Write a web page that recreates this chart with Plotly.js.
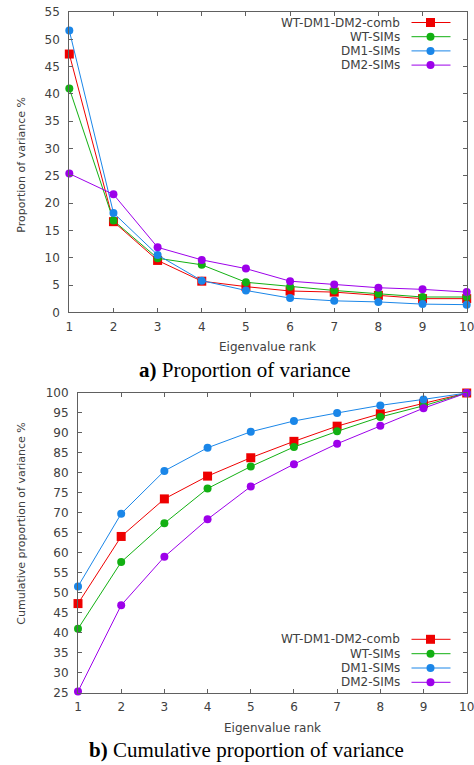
<!DOCTYPE html>
<html>
<head>
<meta charset="utf-8">
<script src="https://cdn.plot.ly/plotly-3.0.1.min.js"></script>
<style>html,body{margin:0;padding:0;background:#fff;}#chart{width:474px;height:765px;}</style>
</head>
<body>
<div id="chart"></div>
<script>
// ---- data ----
const ranks = [1, 2, 3, 4, 5, 6, 7, 8, 9, 10];
const seriesNames = ["WT-DM1-DM2-comb", "WT-SIMs", "DM1-SIMs", "DM2-SIMs"];

// a) proportion of variance (%)
const propComb = [47.3, 16.6, 9.5, 5.7, 4.7, 3.9, 3.7, 3.1, 2.5, 2.5];
const propWT   = [41.0, 16.8, 9.9, 8.7, 5.5, 4.7, 4.0, 3.4, 2.8, 2.8];
const propDM1  = [51.6, 18.2, 10.5, 5.8, 4.0, 2.6, 2.1, 1.9, 1.5, 1.4];
const propDM2  = [25.4, 21.6, 11.9, 9.6, 8.0, 5.7, 5.1, 4.5, 4.2, 3.7];

// b) cumulative proportion of variance (%)
const cumComb = [47.3, 64.1, 73.5, 79.2, 83.8, 87.9, 91.7, 94.8, 97.4, 100];
const cumWT   = [41.0, 57.7, 67.4, 76.1, 81.6, 86.5, 90.4, 94.0, 96.8, 100];
const cumDM1  = [51.6, 69.8, 80.5, 86.3, 90.3, 93.0, 95.0, 96.9, 98.4, 100];
const cumDM2  = [25.3, 46.9, 59.0, 68.4, 76.6, 82.2, 87.3, 91.8, 96.2, 100];

const xTitle = "Eigenvalue rank";
const yTitleA = "Proportion of variance %";
const yTitleB = "Cumulative proportion of variance %";
const captionA = "<b>a)</b> Proportion of variance";
const captionB = "<b>b)</b> Cumulative proportion of variance";

// ---- styles ----
const colors = ["#ee0000", "#12b012", "#1a86e8", "#9d00ea"];
const symbols = ["square", "circle", "circle", "circle"];
const sizes = [9, 8, 8, 8];

const W = 474, H = 765;
const px = x => x / W;
const py = y => 1 - y / H;

const propSeries = [propComb, propWT, propDM1, propDM2];
const cumSeries = [cumComb, cumWT, cumDM1, cumDM2];

const traces = [];
propSeries.forEach((ys, i) => traces.push({
  x: ranks, y: ys, xaxis: "x", yaxis: "y", type: "scatter", mode: "lines+markers",
  name: seriesNames[i], cliponaxis: false,
  line: {color: colors[i], width: 1},
  marker: {color: colors[i], symbol: symbols[i], size: sizes[i], line: {width: 0}}
}));
cumSeries.forEach((ys, i) => traces.push({
  x: ranks, y: ys, xaxis: "x2", yaxis: "y2", type: "scatter", mode: "lines+markers",
  name: seriesNames[i], cliponaxis: false, showlegend: false,
  line: {color: colors[i], width: 1},
  marker: {color: colors[i], symbol: symbols[i], size: sizes[i], line: {width: 0}}
}));

const axColor = "#606060";
const tickFont = {family: "DejaVu Sans", size: 12, color: "#404040"};
const baseAxis = {
  showline: true, linecolor: axColor, linewidth: 1, mirror: "ticks",
  ticks: "inside", ticklen: 4, tickcolor: axColor, tickwidth: 1,
  showgrid: false, zeroline: false, tickfont: tickFont, fixedrange: true,
  ticklabeloverflow: "allow"
};

// legend drawn as keys + text (text left of key)
const shapes = [];
const annotations = [];
function addLegend(rowsY) {
  rowsY.forEach((y, i) => {
    shapes.push({type: "line", xref: "paper", yref: "paper",
      x0: px(411.5), x1: px(450.5), y0: py(y), y1: py(y),
      line: {color: colors[i], width: 1}});
    const r = sizes[i] / 2;
    shapes.push({type: symbols[i] === "square" ? "rect" : "circle", xref: "paper", yref: "paper",
      x0: px(430.5 - r), x1: px(430.5 + r), y0: py(y + r), y1: py(y - r),
      fillcolor: colors[i], line: {width: 0}});
    annotations.push({xref: "paper", yref: "paper", x: px(402), y: py(y),
      xanchor: "right", yanchor: "middle", showarrow: false, text: seriesNames[i],
      font: {family: "DejaVu Sans", size: 12, color: "#404040"}});
  });
}
addLegend([22.5, 36.7, 50.9, 65.1]);
addLegend([639.3, 653.7, 668.0, 682.3]);

const titleFont = {family: "DejaVu Sans", size: 12, color: "#404040"};
const yTitleFont = {family: "DejaVu Sans", size: 11, color: "#404040"};
const capFont = {family: "Liberation Serif", size: 21, color: "#000000"};
annotations.push(
  {xref: "paper", yref: "paper", x: px(267.5), y: py(347), xanchor: "center", yanchor: "middle", showarrow: false, text: xTitle, font: titleFont},
  {xref: "paper", yref: "paper", x: px(272), y: py(728), xanchor: "center", yanchor: "middle", showarrow: false, text: xTitle, font: titleFont},
  {xref: "paper", yref: "paper", x: px(20.7), y: py(165), xanchor: "center", yanchor: "middle", showarrow: false, textangle: -90, text: yTitleA, font: yTitleFont},
  {xref: "paper", yref: "paper", x: px(20.7), y: py(524), xanchor: "center", yanchor: "middle", showarrow: false, textangle: -90, text: yTitleB, font: yTitleFont},
  {xref: "paper", yref: "paper", x: px(245), y: py(370), xanchor: "center", yanchor: "middle", showarrow: false, text: captionA, font: capFont},
  {xref: "paper", yref: "paper", x: px(246), y: py(750), xanchor: "center", yanchor: "middle", showarrow: false, text: captionB, font: capFont}
);

const layout = {
  width: W, height: H,
  margin: {l: 0, r: 0, t: 0, b: 0},
  paper_bgcolor: "#ffffff", plot_bgcolor: "#ffffff",
  showlegend: false,
  xaxis: Object.assign({}, baseAxis, {domain: [px(69.3), px(466.7)], range: [1, 10], tickvals: ranks, anchor: "y", ticklabelstandoff: 3}),
  yaxis: Object.assign({}, baseAxis, {domain: [py(312.3), py(12)], range: [0, 55], dtick: 5, tick0: 0, anchor: "x", ticklabelstandoff: 6}),
  xaxis2: Object.assign({}, baseAxis, {domain: [px(78), px(466.7)], range: [1, 10], tickvals: ranks, anchor: "y2", ticklabelstandoff: 3}),
  yaxis2: Object.assign({}, baseAxis, {domain: [py(692.7), py(393)], range: [25, 100], dtick: 5, tick0: 0, anchor: "x2", ticklabelstandoff: 6}),
  shapes: shapes,
  annotations: annotations
};

Plotly.newPlot("chart", traces, layout, {displayModeBar: false, staticPlot: true});
</script>
</body>
</html>
